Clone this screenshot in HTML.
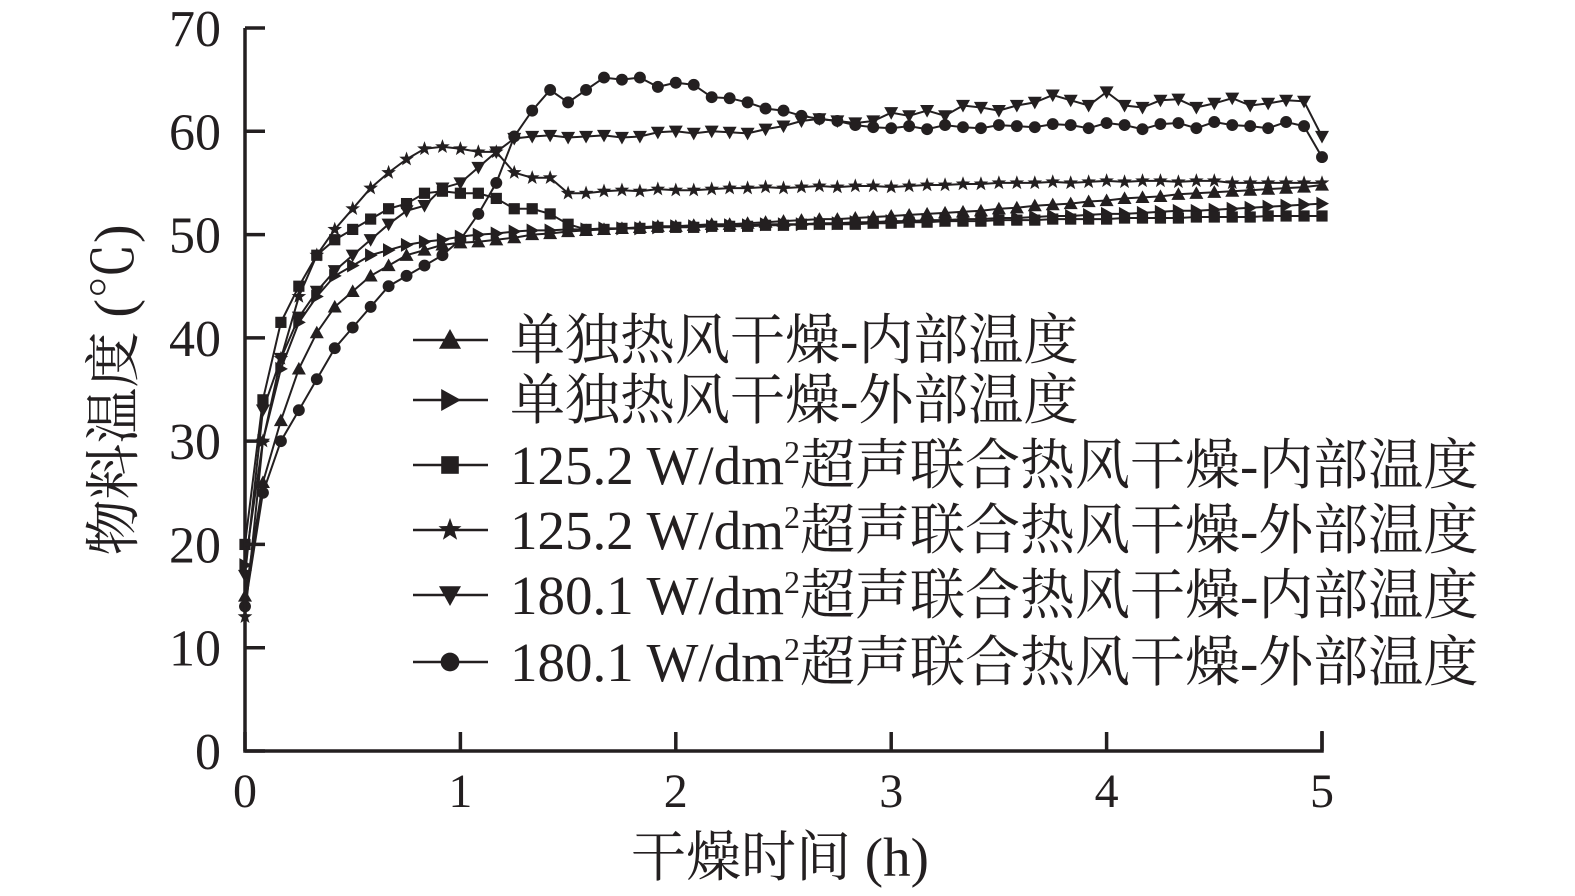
<!DOCTYPE html>
<html><head><meta charset="utf-8">
<style>
html,body{margin:0;padding:0;background:#fff;}
svg{display:block;}
text{font-family:"Liberation Serif","Noto Serif CJK SC","Noto Serif CJK JP","Noto Serif CJK TC",serif;fill:#231f20;}
</style></head>
<body>
<svg id="chart" width="1575" height="896" viewBox="0 0 1575 896" xmlns="http://www.w3.org/2000/svg">
<g id="plot"></g>
<g id="axes"></g>
<g id="legend"></g>
</svg>
<script>
const xTicks = [0,1,2,3,4,5];
const yTicks = [0,10,20,30,40,50,60,70];
const seriesNames = ["单独热风干燥-内部温度","单独热风干燥-外部温度","125.2 W/dm²超声联合热风干燥-内部温度","125.2 W/dm²超声联合热风干燥-外部温度","180.1 W/dm²超声联合热风干燥-内部温度","180.1 W/dm²超声联合热风干燥-外部温度"];
const timeStepH = 1/12;
const hotAirInner = [15,26,32,37,40.5,43,44.5,46,47,48,48.5,49,49.2,49.3,49.5,49.7,50,50.1,50.3,50.4,50.5,50.6,50.7,50.8,50.8,50.9,51,51,51.1,51.2,51.3,51.4,51.5,51.5,51.6,51.7,51.8,51.9,52,52.1,52.2,52.3,52.5,52.6,52.8,52.9,53,53.2,53.3,53.5,53.6,53.7,53.9,54,54.1,54.2,54.3,54.4,54.5,54.6,54.8];
const hotAirOuter = [18,30,37,41.5,44,46,47,48,48.5,49,49.3,49.5,49.8,50,50.1,50.3,50.4,50.4,50.5,50.5,50.6,50.6,50.6,50.7,50.8,50.8,50.8,50.9,50.9,51,51,51,51.1,51.1,51.2,51.2,51.3,51.3,51.4,51.4,51.5,51.5,51.6,51.6,51.7,51.8,51.8,51.9,52,52,52.1,52.2,52.3,52.3,52.4,52.5,52.6,52.7,52.8,52.9,53];
const us125Inner = [20,34,41.5,45,48,49.5,50.5,51.5,52.5,53,54,54.2,54,54,53.5,52.5,52.5,52,51,50.5,50.5,50.6,50.6,50.7,50.7,50.7,50.8,50.8,50.8,50.9,50.9,51,51,51,51,51.1,51.1,51.2,51.2,51.3,51.3,51.3,51.4,51.4,51.4,51.5,51.5,51.5,51.5,51.6,51.6,51.6,51.6,51.7,51.7,51.7,51.7,51.8,51.8,51.8,51.8];
const us125Outer = [13,30,38,44,48,50.5,52.5,54.5,56,57.3,58.3,58.5,58.3,58,58,56,55.5,55.5,54,54,54.2,54.3,54.2,54.4,54.3,54.3,54.4,54.5,54.5,54.6,54.5,54.6,54.7,54.6,54.7,54.7,54.6,54.7,54.8,54.8,54.9,54.9,55,55,55,55.1,55,55.1,55.2,55.1,55.2,55.2,55.1,55.2,55.2,55,55,55,55,55,55];
const us180Inner = [17,33,38,42,44.5,46.5,48,49.5,51,52.3,52.8,54.5,55,56.5,58,59.3,59.5,59.6,59.4,59.5,59.6,59.4,59.5,59.9,60,59.8,60,59.9,59.8,60.2,60.5,61,61.2,61,60.8,61,61.8,61.5,62,61.5,62.5,62.3,62,62.5,62.8,63.5,63,62.5,63.8,62.5,62.3,63,63.1,62.3,62.7,63.2,62.5,62.7,63,62.9,59.5];
const us180Outer = [14,25,30,33,36,39,41,43,45,46,47,48,49.5,52,55,59.5,62,64,62.8,64,65.2,65,65.2,64.3,64.7,64.5,63.3,63.2,62.8,62.2,62,61.5,61.2,61,60.6,60.4,60.3,60.5,60.2,60.6,60.4,60.3,60.6,60.5,60.4,60.7,60.6,60.3,60.8,60.6,60.2,60.7,60.8,60.3,60.9,60.6,60.5,60.3,60.9,60.5,57.5];

const X0=245,X1=1322,Y0=751,Y1=28;
const xs=t=>X0+(X1-X0)*t/5;
const ys=v=>Y0-(Y0-Y1)*v/70;
const NS="http://www.w3.org/2000/svg";
function mk(tag,attrs,parent){const e=document.createElementNS(NS,tag);for(const k in attrs)e.setAttribute(k,attrs[k]);parent.appendChild(e);return e;}
function marker(type,cx,cy,s,parent){
  let e;
  if(type==="circle"){e=mk("circle",{cx:cx,cy:cy,r:s*0.85,fill:"#231f20"},parent);}
  else if(type==="square"){e=mk("rect",{x:cx-s*0.8,y:cy-s*0.8,width:s*1.6,height:s*1.6,fill:"#231f20"},parent);}
  else{
    let pts;
    if(type==="up")pts=[[0,-s],[s,s*0.8],[-s,s*0.8]];
    else if(type==="down")pts=[[0,s],[s,-s*0.8],[-s,-s*0.8]];
    else if(type==="right")pts=[[s,0],[-s*0.8,-s],[-s*0.8,s]];
    else {pts=[];for(let i=0;i<10;i++){const r=i%2?s*0.45:s*1.1;const a=-Math.PI/2+i*Math.PI/5;pts.push([r*Math.cos(a),r*Math.sin(a)]);}}
    e=mk("polygon",{points:pts.map(p=>(cx+p[0])+","+(cy+p[1])).join(" "),fill:"#231f20"},parent);
  }
  return e;
}
const plot=document.getElementById("plot");
const allSeries=[hotAirInner,hotAirOuter,us125Inner,us125Outer,us180Inner,us180Outer];
const types=["up","right","square","star","down","circle"];
const keys=["hot-air-inner","hot-air-outer","us125-inner","us125-outer","us180-inner","us180-outer"];
allSeries.forEach((arr,si)=>{
  const g=mk("g",{},plot);
  
  
  const d=arr.map((v,i)=>(i?"L":"M")+xs(i*timeStepH).toFixed(1)+","+ys(v).toFixed(1)).join(" ");
  const p=mk("path",{d:d,fill:"none",stroke:"#231f20","stroke-width":2},g);
  
  
  arr.forEach((v,i)=>{
    const m=marker(types[si],xs(i*timeStepH),ys(v),7,g);
    
    
  });
});
const axes=document.getElementById("axes");
const ax=mk("path",{d:`M${X0},${Y1} L${X0},${Y0} L${X1},${Y0} L${X1},${Y0-20}`,fill:"none",stroke:"#231f20","stroke-width":3.5},axes);


yTicks.forEach(v=>{
  const l=mk("line",{x1:X0,x2:X0+20,y1:ys(v),y2:ys(v),stroke:"#231f20","stroke-width":3.5},axes);
  
  
  const t=mk("text",{x:221,y:ys(v)+18,"text-anchor":"end","font-size":52},axes);
  t.textContent=v;
  
  
});
xTicks.forEach(v=>{
  const l=mk("line",{x1:xs(v),x2:xs(v),y1:Y0,y2:Y0-19,stroke:"#231f20","stroke-width":3.5},axes);
  
  
  const t=mk("text",{x:xs(v),y:807,"text-anchor":"middle","font-size":48},axes);
  t.textContent=v;
  
  
});
const xt=mk("text",{x:780,y:876,"text-anchor":"middle","font-size":55},axes);
xt.textContent="干燥时间 (h)";


const yt=mk("text",{x:0,y:0,"text-anchor":"middle","font-size":56,transform:"translate(133,390) rotate(-90)"},axes);
yt.textContent="物料温度 (℃)";


const leg=document.getElementById("legend");
const rowY=[340,400,465,530,595,662];
seriesNames.forEach((n,i)=>{
  const g=mk("g",{},leg);
  
  
  mk("line",{x1:413,x2:488,y1:rowY[i],y2:rowY[i],stroke:"#231f20","stroke-width":2.5},g);
  marker(types[i],450,rowY[i],11,g);
  const t=mk("text",{x:510,y:rowY[i]+19,"font-size":55},g);
  const parts=n.split("²");
  if(parts.length>1){
    t.appendChild(document.createTextNode(parts[0]));
    const s=mk("tspan",{"font-size":32,dy:-21},t);s.textContent="2";
    const r=mk("tspan",{"font-size":55,dy:21},t);r.textContent=parts[1];
  } else t.textContent=n;
});
</script>
</body></html>
